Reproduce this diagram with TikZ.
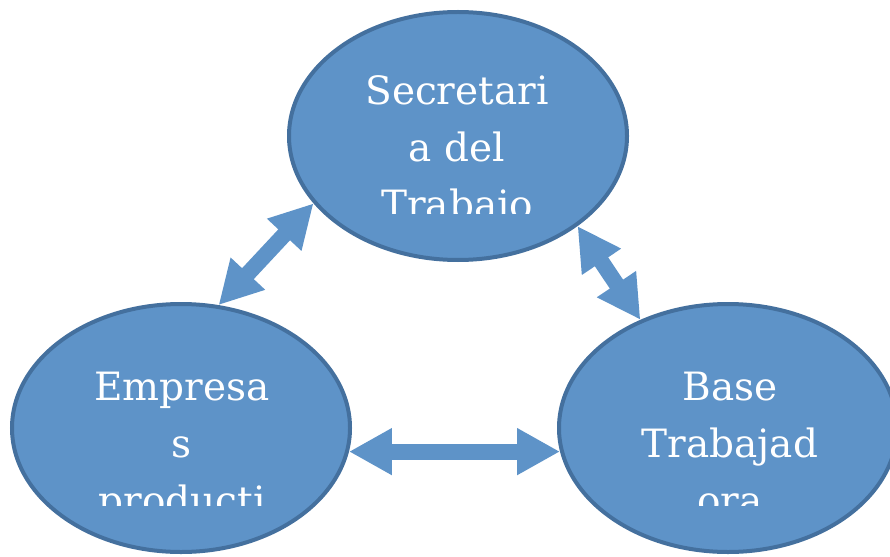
\documentclass[tikz,border=0pt]{standalone}
\usepackage{fontspec}
\setmainfont{DejaVu Serif}
\usetikzlibrary{shapes.geometric,arrows.meta}
\definecolor{bubblefill}{RGB}{94,147,200}
\definecolor{bubbleline}{RGB}{68,112,158}
\tikzset{
  bubble/.style={ellipse,draw=bubbleline,line width=4pt,fill=bubblefill,minimum width=338pt,minimum height=248pt,inner sep=0pt},
  lbl/.style={text=white,inner sep=0pt,anchor=base,font=\fontsize{39}{57}\selectfont},
  link/.style={draw=bubblefill,line width=16pt,{Triangle[length=43pt,width=44pt]}-{Triangle[length=43pt,width=44pt]}}
}
\begin{document}
\begin{tikzpicture}[x=1pt,y=-1pt]
\useasboundingbox (0,0) rectangle (890,556);
\node[bubble] (secretaria) at (458,136) {};
\node[bubble] (empresas) at (181,428) {};
\node[bubble] (base) at (728,428) {};
\begin{scope}
\clip (280,0) rectangle (640,213);
\node[lbl] (secretariatext) at (457,105) {\begin{tabular}[t]{@{}c@{}}Secretari\\a del\\Trabajo\end{tabular}};
\end{scope}
\begin{scope}
\clip (0,300) rectangle (360,505);
\node[lbl] (empresastext) at (182,400) {\begin{tabular}[t]{@{}c@{}}Empresa\\s\\producti\end{tabular}};
\end{scope}
\begin{scope}
\clip (550,300) rectangle (890,505);
\node[lbl] (basetext) at (730,400) {\begin{tabular}[t]{@{}c@{}}Base\\Trabajad\\ora\end{tabular}};
\end{scope}
\draw[link] (empresas.73.5) -- (secretaria.205.8);
\draw[link] (secretaria.323.4) -- (base.129);
\draw[link] (empresas.352.7) -- (base.188);
\end{tikzpicture}
\end{document}
